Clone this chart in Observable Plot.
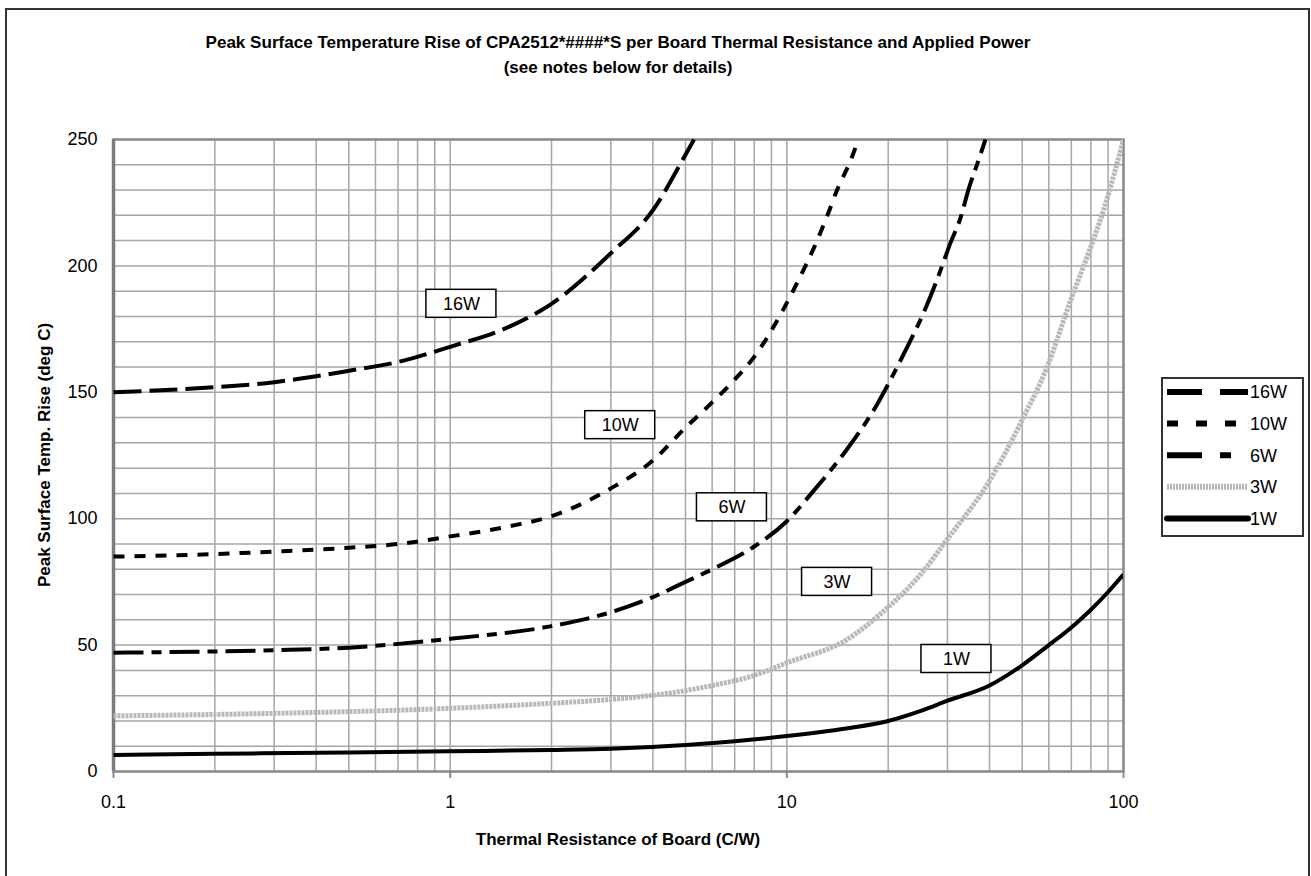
<!DOCTYPE html>
<html>
<head>
<meta charset="utf-8">
<script src="https://cdn.jsdelivr.net/npm/d3@7"></script>
<script src="https://cdn.jsdelivr.net/npm/@observablehq/plot@0.6"></script>
<style>
  body { margin: 0; background: #fff; }
  #chart { width: 1311px; height: 876px; overflow: hidden; }
</style>
</head>
<body>
<div id="chart"></div>
<script>
// ---------------- data ----------------
const titleText = "Peak Surface Temperature Rise of CPA2512*####*S per Board Thermal Resistance and Applied Power";
const subtitleText = "(see notes below for details)";
const xLabel = "Thermal Resistance of Board (C/W)";
const yLabel = "Peak Surface Temp. Rise (deg C)";

const seriesNames = ["16W", "10W", "6W", "3W", "1W"];

const r16 = [0.1, 0.2, 0.3, 0.5, 0.7, 1, 1.5, 2, 3, 4, 5, 5.3];
const t16 = [150, 152, 154, 158.5, 162, 168, 176, 185, 205, 222, 244, 250];

const r10 = [0.1, 0.2, 0.3, 0.5, 0.7, 1, 1.5, 2, 3, 4, 5, 6, 7, 8, 9.6, 10.7, 12.3, 13.2, 14.2, 15.5, 16.3];
const t10 = [85, 86, 87, 88.5, 90, 93, 97, 101, 112, 123, 136, 146, 155, 164, 181, 193, 210, 220, 231, 242, 250];

const r6 = [0.1, 0.3, 0.5, 1, 2, 3, 4, 5, 6, 8, 10, 12, 15, 18.5, 20.7, 22.8, 25.4, 28.2, 30.6, 32.8, 34.6, 37.6, 38.9];
const t6 = [47, 48, 49, 52.5, 57.5, 63, 69, 75, 80, 89, 99, 111, 127, 145, 157, 168, 181, 196, 209, 219, 230, 244, 250];

const r3 = [0.1, 0.3, 1, 2, 3, 5, 6, 8, 10, 15, 20, 25, 30, 40, 50.4, 59.3, 69.5, 79.7, 87.2, 100];
const t3 = [22, 23, 25, 27, 28.5, 32, 34, 38, 43, 52, 65, 78, 92, 115, 140, 160, 186, 207, 222, 250];

const r1 = [0.1, 0.2, 0.5, 1, 2, 3, 5, 7, 10, 15, 20, 25, 30, 40, 50, 60, 70, 80, 90, 100];
const t1 = [6.5, 7, 7.5, 8, 8.5, 9, 10.5, 12, 14, 17, 20, 24, 28, 34, 42, 50, 57, 64, 71, 78];

const labelX = [1.08, 3.2, 6.87, 14.1, 31.9];
const labelY = [185, 137, 104.5, 75, 44.5];

const xTicks = [0.1, 1, 10, 100];
const yTicks = [0, 50, 100, 150, 200, 250];
const xGrid = [0.1, 0.2, 0.3, 0.4, 0.5, 0.6, 0.7, 0.8, 0.9,
               1, 2, 3, 4, 5, 6, 7, 8, 9,
               10, 20, 30, 40, 50, 60, 70, 80, 90, 100];
const yGrid = [0, 10, 20, 30, 40, 50, 60, 70, 80, 90, 100, 110, 120, 130, 140, 150,
               160, 170, 180, 190, 200, 210, 220, 230, 240, 250];

// ---------------- styles ----------------
const FONT = "'Liberation Sans', Arial, Helvetica, sans-serif";
const styles = {
  "16W": {stroke: "#000", width: 4, dash: "28,8", legendDash: "35,18", legendWidth: 6},
  "10W": {stroke: "#000", width: 4, dash: "11,10", legendDash: "11,18", legendWidth: 6},
  "6W":  {stroke: "#000", width: 4, dash: "30,8,10,8", legendDash: "35,18,11,18", legendWidth: 6},
  "3W":  {stroke: "#b8b8b8", width: 5, dash: "3,1", legendDash: "2,1", legendWidth: 6},
  "1W":  {stroke: "#000", width: 4, dash: null, legendDash: null, legendWidth: 6}
};

const seriesData = {
  "16W": r16.map((r, i) => ({r, t: t16[i]})),
  "10W": r10.map((r, i) => ({r, t: t10[i]})),
  "6W":  r6.map((r, i) => ({r, t: t6[i]})),
  "3W":  r3.map((r, i) => ({r, t: t3[i]})),
  "1W":  r1.map((r, i) => ({r, t: t1[i]}))
};
const labels = seriesNames.map((name, i) => ({name, x: labelX[i], y: labelY[i]}));

const lineMarks = seriesNames.map(name => Plot.line(seriesData[name], {
  x: "r", y: "t",
  stroke: styles[name].stroke,
  strokeWidth: styles[name].width,
  strokeDasharray: styles[name].dash,
  strokeLinecap: "butt",
  curve: "monotone-x",
  clip: true
}));

const plot = Plot.plot({
  width: 1311,
  height: 876,
  marginLeft: 113,
  marginRight: 188,
  marginTop: 139,
  marginBottom: 105,
  x: {type: "log", domain: [0.1, 100]},
  y: {domain: [0, 250]},
  style: {fontFamily: FONT, fontSize: "18px", color: "#000", background: "#fff"},
  marks: [
    Plot.ruleX(xGrid, {stroke: "#a6a6a6", strokeWidth: 1.5}),
    Plot.ruleY(yGrid, {stroke: "#a6a6a6", strokeWidth: 1.5}),
    Plot.frame({stroke: "#8a8a8a", strokeWidth: 2.5}),
    Plot.ruleX([0.1], {stroke: "#7c7c7c", strokeWidth: 3.5}),
    Plot.axisX(xTicks, {tickFormat: d => String(d), tickSize: 7, tickPadding: 17, stroke: "#8a8a8a", strokeWidth: 2, fontSize: 18, label: null}),
    Plot.axisY(yTicks, {tickSize: 0, tickPadding: 16, fontSize: 18, label: null}),
    ...lineMarks,
    Plot.text(labels, {x: "x", y: "y", text: "name", fontSize: 18, fill: "#000"})
  ]
});

document.getElementById("chart").appendChild(plot);

// ---------------- decorations ----------------
const svg = d3.select(plot);
const sx = plot.scale("x"), sy = plot.scale("y");
const [x0, x1] = sx.range;
const cx = (x0 + x1) / 2;
const [yb, yt] = sy.range;

// label boxes (behind label text)
const boxes = svg.append("g");
labels.forEach(d => {
  boxes.append("rect")
    .attr("x", sx.apply(d.x) - 35).attr("y", sy.apply(d.y) - 14)
    .attr("width", 70).attr("height", 28)
    .attr("fill", "#fff").attr("stroke", "#000").attr("stroke-width", 1.5);
});
// bring the curve-label text above the boxes
svg.selectAll("g").filter(function() {
  const t = d3.select(this).selectAll("text").nodes().map(n => n.textContent);
  return t.length === seriesNames.length && t.every(s => seriesNames.includes(s)) && this.parentNode === plot;
}).raise();

// outer border
svg.append("rect").attr("x", 6).attr("y", 9).attr("width", 1303).attr("height", 880)
  .attr("fill", "none").attr("stroke", "#333").attr("stroke-width", 2);

// titles
const tg = svg.append("g").attr("font-family", FONT).attr("fill", "#000").attr("text-anchor", "middle").attr("font-weight", "bold");
tg.append("text").attr("x", cx).attr("y", 48).attr("font-size", 17)
  .attr("textLength", 825).attr("lengthAdjust", "spacingAndGlyphs").text(titleText);
tg.append("text").attr("x", cx).attr("y", 73).attr("font-size", 17).text(subtitleText);

// axis labels
tg.append("text").attr("x", cx).attr("y", yb + 74).attr("font-size", 17).text(xLabel);
tg.append("text").attr("transform", `translate(50,${(yb + yt) / 2}) rotate(-90)`).attr("font-size", 17).text(yLabel);

// legend
const lg = svg.append("g").attr("font-family", FONT).attr("text-anchor", "start");
lg.append("rect").attr("x", 1162).attr("y", 378).attr("width", 141).attr("height", 158)
  .attr("fill", "#fff").attr("stroke", "#333").attr("stroke-width", 2);
seriesNames.forEach((name, i) => {
  const y = 392 + i * 31.6;
  const s = styles[name];
  lg.append("line").attr("x1", 1167).attr("x2", 1248).attr("y1", y).attr("y2", y)
    .attr("stroke", s.stroke).attr("stroke-width", s.legendWidth)
    .attr("stroke-dasharray", s.legendDash)
    .attr("stroke-linecap", name === "1W" ? "round" : "butt");
  lg.append("text").attr("x", 1250).attr("y", y).attr("dy", "0.35em")
    .attr("font-size", 18).attr("fill", "#000").text(name);
});
</script>
</body>
</html>
